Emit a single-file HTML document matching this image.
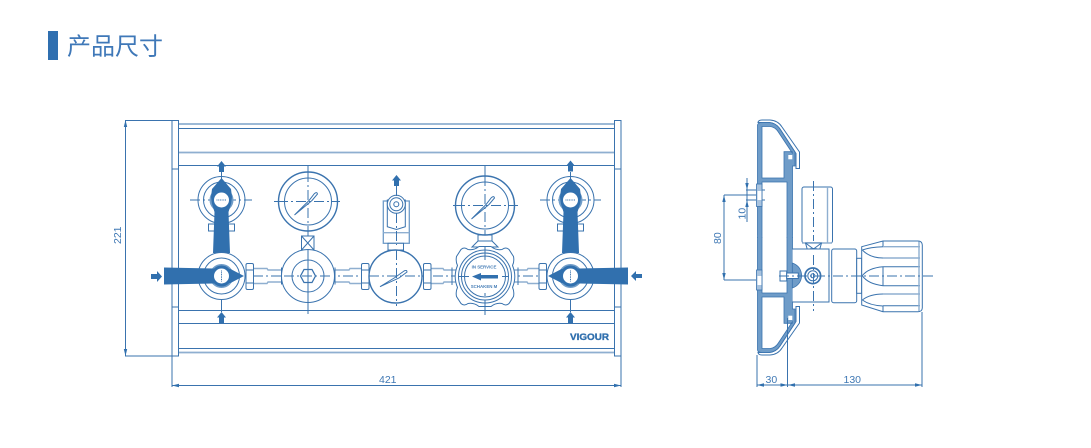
<!DOCTYPE html>
<html lang="zh">
<head>
<meta charset="utf-8">
<title>产品尺寸</title>
<style>
html,body{margin:0;padding:0;background:#fff;width:1091px;height:448px;overflow:hidden}
svg{display:block}
.l{fill:none;stroke:#3a73ae;stroke-width:1}
.p{fill:none;stroke:#8fafd0;stroke-width:1.4}
.w{fill:#fff;stroke:#3a73ae;stroke-width:1}
.h{fill:#6f9cc8;stroke:#3a73ae;stroke-width:.8}
.f{fill:#3170ae;stroke:none}
.c{fill:none;stroke:#3a73ae;stroke-width:1;stroke-dasharray:10 3 2 3}
.d{font-family:"Liberation Sans",sans-serif;font-size:10.5px;fill:#3f78b4}
</style>
</head>
<body>
<svg width="1091" height="448" viewBox="0 0 1091 448" xmlns="http://www.w3.org/2000/svg">
<defs>
<path id="up" class="f" d="M0 0L4.500 5.500H2.500V11H-2.500V5.500H-4.500Z"/>
<g id="rings">
<circle class="l" r="23.500"/>
<circle class="l" r="18"/>
<circle r="12" fill="#6f9cc8"/>
</g>
<g id="vhandle">
<rect class="w" x="-13" y="24" width="6" height="7"/>
<rect class="w" x="7" y="24" width="6" height="7"/>
<path class="f" d="M0 -22L9.500 -11L10.500 -3L9.500 4L7 12L8.500 53H-8.500L-7 12L-9.500 4L-10.500 -3L-9.500 -11Z"/>
<circle r="7.500" fill="#fff"/>
<path d="M-5 0H5" stroke="#3a73ae" stroke-width="1" stroke-dasharray="1 .7"/>
</g>
<g id="hhandle">
<path class="f" d="M22.500 0L9 -7L-8 -7.500L-57.500 -8.500V8.500L-8 7.500L9 7Z"/>
<circle r="10.500" class="f"/>
<circle r="7.500" fill="#fff"/>
<path d="M0 -5.500V5.500" stroke="#3a73ae" stroke-width="1" stroke-dasharray="1 .7"/>
</g>
<g id="gauge">
<circle class="l" r="29.500" style="stroke-width:1.400"/>
<circle class="l" r="23.500"/>
<path class="l" d="M-13.500 13.500L1 -1L6.500 -8Q9 -10 9.500 -7.500L4 -1L-13.500 13.500Z"/>
</g>
<g id="cover">
<path class="w" d="M758 123Q758 120 762 120H770Q778 120.500 782 127L799.500 152V168.500H796V153.500L780 129Q776 123 769 122.500H758Z"/>
<path class="h" d="M757.500 237.500V125Q758 122.500 762 122.500H769Q776 123 780 129L795 152V166H792.500V237.500H787V182H762V237.500ZM762 178H784V151.700H792.300V153L778 131.500Q775 127 770 126.500H762Z" fill-rule="evenodd"/>
<rect x="788.300" y="155" width="4" height="4.300" fill="#fff"/>
</g>
</defs>

<!-- Title -->
<rect x="48" y="31" width="10" height="29" fill="#2f6fb0"/>
<text x="67" y="54.500" font-family="'Liberation Sans','Noto Sans CJK SC',sans-serif" font-size="24" fill="#3f78b8">产品尺寸</text>

<!-- Front view: rails -->
<path class="l" d="M178 124H614M178 128.500H614M178 165.500H614M178 310.500H614M178 323.500H614M178 348.500H614"/>
<path class="p" style="stroke-width:1.800" d="M178 152.500H614M178 352.500H614"/>
<rect class="l" x="172" y="120.500" width="6.500" height="235.500"/>
<path class="l" d="M172 169H178M172 307H178"/>
<rect class="l" x="614.500" y="120.500" width="6.500" height="235.500"/>
<path class="l" d="M614.500 169H621M614.500 307H621"/>

<!-- Front view: dimensions -->
<path class="l" d="M125.500 120.500V356M125 120.500H172M125 356H172M172 356V387M621 356V387M172 385.500H621"/>
<path class="f" d="M125.500 120L123.800 127H127.200ZM125.500 356L123.800 349H127.200ZM172 385.500L179 383.800V387.200ZM621 385.500L614 383.800V387.200Z"/>
<text class="d" x="379" y="383">421</text>
<text class="d" transform="translate(121,244) rotate(-90)">221</text>

<!-- Center lines -->
<path class="c" d="M190 200H252M540 200H601M221.500 172V224M570.500 172V224"/>
<path class="l" d="M221.500 300V312M570.500 300V312"/>
<path class="l" d="M308 166V172M485 166V176M274 201.500H278M336 201.500H340M453 205.500H456M514 205.500H518"/>
<path class="c" d="M308 172V236M278 201.500H338M485 176V235M455 205.500H515"/>

<!-- Pipes -->
<path class="p" d="M253.500 268.500H267L268 270H281.500M253.500 283.500H267L268 282H281.500M335 270H349L350 268.500H362M335 282H349L350 283.500H362M431 268.500H443L444 270H458M431 283.500H443L444 282H458M513 270H527L528 268.500H539M513 282H527L528 283.500H539"/>
<path class="l" d="M281.500 267.500V284.500M335 267.500V284.500M452 267.500V285M518 267.500V285"/>
<path class="c" d="M253 276H540"/>

<!-- Nuts -->
<g>
<rect class="w" x="246" y="263.500" width="7.500" height="26" rx="1.500"/>
<path class="l" d="M246 270H253.500M246 283H253.500"/>
<rect class="w" x="361.500" y="263.500" width="7.500" height="26" rx="1.500"/>
<path class="l" d="M361.500 270H369M361.500 283H369"/>
<rect class="w" x="423.500" y="263.500" width="7.500" height="26" rx="1.500"/>
<path class="l" d="M423.500 270H431M423.500 283H431"/>
<rect class="w" x="539" y="263.500" width="7.500" height="26" rx="1.500"/>
<path class="l" d="M539 270H546.500M539 283H546.500"/>
</g>

<!-- Upper valves -->
<g transform="translate(221.500,200)"><use href="#rings"/><use href="#vhandle"/></g>
<g transform="translate(570.500,200)"><use href="#rings"/><use href="#vhandle"/></g>
<use href="#up" x="221.500" y="161"/>
<use href="#up" x="570.500" y="160.500"/>
<use href="#up" x="396.500" y="175"/>
<use href="#up" x="221.500" y="312"/>
<use href="#up" x="570.500" y="312"/>

<!-- Gauges -->
<g transform="translate(308,201.500)"><use href="#gauge"/></g>
<g transform="translate(485,205.500)"><use href="#gauge"/></g>
<rect class="l" x="301.500" y="236" width="12.500" height="14"/>
<path class="l" d="M301.500 236L314 250M314 236L301.500 250"/>
<path class="l" d="M478 235H492V241L498 247H472L478 241ZM478 241H492"/>

<!-- Lower valves -->
<g transform="translate(221.500,276)"><use href="#rings"/><use href="#hhandle"/></g>
<g transform="translate(570.500,276) scale(-1,1)"><use href="#rings"/><use href="#hhandle"/></g>
<path class="f" d="M151 274H157V271L162 276.500L157 282V279H151Z"/>
<path class="f" d="M642 274H636V271L631 276L636 281V278H642Z"/>

<!-- Regulator block -->
<circle class="w" cx="308" cy="276" r="26.500"/>
<circle class="l" cx="308" cy="276" r="16"/>
<path class="l" d="M300.500 276L304 269.500H312L315.500 276L312 282.500H304Z" style="stroke-width:1.300"/>
<path class="l" d="M308 250V314"/>
<path class="c" d="M284 276H332"/>

<!-- Small valve -->
<rect class="w" x="383.300" y="201" width="26" height="42.300" style="stroke:#6f9cc8;stroke-width:1.300"/>
<path class="p" d="M383.300 232.700H409.300"/>
<path class="w" d="M387.300 200V226.700L396.500 229.500L405.300 226.700V200Z"/>
<circle class="w" cx="396.300" cy="204.300" r="9"/>
<circle class="l" cx="396.300" cy="204.300" r="6.500"/>
<circle class="l" cx="396.300" cy="204.300" r="2.500"/>
<rect class="w" x="388" y="243.300" width="15.500" height="6.700"/>
<path class="c" d="M396.500 186V196M396.500 213V245"/>

<!-- Regulator gauge -->
<circle class="w" cx="395.500" cy="276.500" r="26.500" style="stroke-width:1.400"/>
<path class="l" d="M380 286.700L395 277.500L404 271Q407 269.500 407 272L399 278Z"/>
<path class="c" d="M396.500 250V306M369 276H422"/>

<!-- Knob -->
<path class="w" transform="translate(485,276.500)" d="M-6 -30H6Q11 -26 17 -27Q21 -30 24 -27L28.500 -20Q29.500 -15 27.500 -11A28.500 28.500 0 0 1 27.500 11Q29.500 15 28.500 20L24 27Q21 30 17 27Q11 26 6 30H-6Q-11 26 -17 27Q-21 30 -24 27L-28.500 20Q-29.500 15 -27.500 11A28.500 28.500 0 0 1 -27.500 -11Q-29.500 -15 -28.500 -20L-24 -27Q-21 -30 -17 -27Q-11 -26 -6 -30Z"/>
<circle class="l" cx="485" cy="276.500" r="26.500"/>
<circle class="l" cx="485" cy="276.500" r="23.500"/>
<circle class="l" cx="485" cy="276.500" r="20.500"/>
<path class="f" d="M472 276.500L481 273V275H498V278.500H481V280.500Z"/>
<text x="484" y="268.500" text-anchor="middle" font-family="'Liberation Sans',sans-serif" font-size="4.400" font-weight="bold" fill="#4a80b8">IN SERVICE</text>
<text x="484" y="288" text-anchor="middle" font-family="'Liberation Sans',sans-serif" font-size="4.400" font-weight="bold" fill="#4a80b8">SCHAKEN M</text>
<path class="l" d="M485 247V260M485 293V296M485 300V315M458 276.500H469M502 276.500H508"/>

<!-- Brand -->
<text x="570" y="340" font-family="'Liberation Sans',sans-serif" font-size="9.500" font-weight="bold" fill="#3170ae" stroke="#3170ae" stroke-width=".35" textLength="39" lengthAdjust="spacingAndGlyphs">VIGOUR</text>

<!-- Side view: panel -->
<use href="#cover"/>
<use href="#cover" transform="translate(0,475) scale(1,-1)"/>
<rect x="757.900" y="235" width="3.700" height="5" fill="#6f9cc8"/>
<rect x="787.400" y="235" width="4.700" height="5" fill="#6f9cc8"/>
<rect x="756.500" y="184" width="5.500" height="22.500" class="h" style="fill:#a9c3de"/>
<rect x="757.500" y="191" width="4" height="9" fill="#fff"/>
<rect x="756.500" y="270" width="5.500" height="20" class="h" style="fill:#a9c3de"/>
<rect x="757.500" y="276" width="4" height="9" fill="#fff"/>

<!-- Side view: mounted parts -->
<rect class="w" x="802" y="187" width="30.500" height="56" rx="2"/>
<path class="p" d="M827.500 187V243M802 243H832"/>
<path class="w" d="M805.500 243H821.500L819 252H808Z"/>
<path class="l" d="M805.500 243L821.500 255M821.500 243L805.500 255"/>
<ellipse class="l" cx="813.500" cy="252" rx="8" ry="3.500"/>
<path class="w" d="M792.500 249H829V302H792.500"/>
<rect class="w" x="831.700" y="249" width="25" height="53.700" rx="2"/>
<rect class="w" x="856.700" y="258.300" width="5" height="35"/>
<path class="w" d="M861.700 246.700L883 241H918Q922 241 922.300 245V308Q922 311.700 918 311.700H883L861.700 305Z"/>
<path class="l" d="M883 266.700H920M883 285.700H920M883 305.700H920M883 241V246.700M883 266.700V285.700M883 305.700V311.700"/>
<path class="p" d="M883 246.700H920M883 258H920M883 294H920M919 241.500V311"/>
<path class="l" d="M862.300 250Q870 247 883 246.700M862.300 250Q870 258 883 258M862.300 275.700Q868 268 883 266.700M862.300 275.700Q868 284 883 285.700M862.300 300Q870 294 883 294M862.300 300Q870 305.500 883 306"/>

<path class="h" d="M792.300 263Q801 266 801.700 275.500Q801 285 792.300 288Z"/>
<rect class="w" x="780" y="271" width="6.700" height="10"/>
<rect class="w" x="786.700" y="273" width="11.600" height="5.500"/>
<circle class="l" cx="812.800" cy="275.800" r="7.800" style="stroke-width:1.700"/>
<circle class="l" cx="812.800" cy="275.800" r="5"/>
<circle class="l" cx="812.800" cy="275.800" r="2"/>
<path class="c" d="M813.500 181V241M813.500 255V311M779 276H934"/>

<!-- Side view: dimensions -->
<path class="l" d="M724 195V280M724 195H756M724 280H756M747 178V222M746 190H756M746 200H756M762 190H765M762 200H765"/>
<path class="f" d="M724 195L722.300 202H725.700ZM724 280L722.300 273H725.700ZM747 190L745.300 183H748.700ZM747 200L745.300 207H748.700Z"/>
<text class="d" transform="translate(721,244) rotate(-90)">80</text>
<text class="d" transform="translate(745.500,219.500) rotate(-90)">10</text>
<path class="l" d="M757 355V387M787.500 318V387M922 312V387M757 385H922"/>
<path class="f" d="M757 385L764 383.300V386.700ZM787.500 385L780.500 383.300V386.700ZM788 385L795 383.300V386.700ZM922 385L915 383.300V386.700Z"/>
<text class="d" x="765.500" y="383">30</text>
<text class="d" x="843.500" y="383">130</text>
</svg>
</body>
</html>
